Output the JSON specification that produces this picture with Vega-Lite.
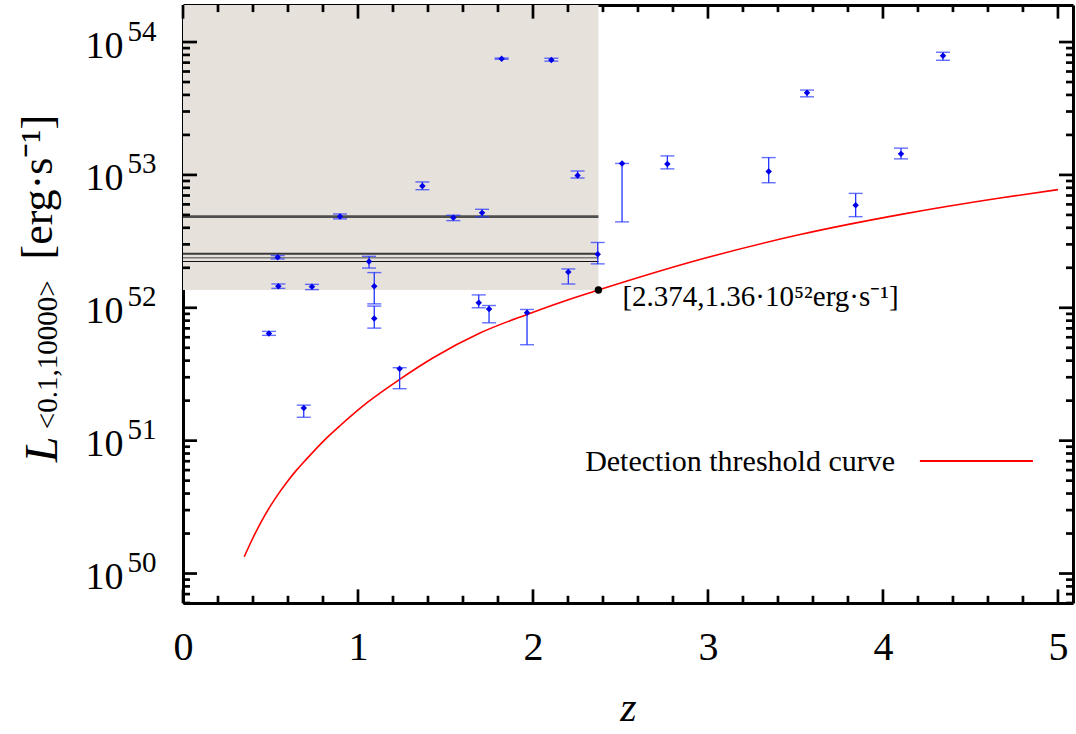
{
  "$schema": "https://vega.github.io/schema/vega-lite/v6.json",
  "width": 890,
  "height": 598,
  "autosize": {"type": "none"},
  "padding": {"left": 183, "top": 5, "right": 3, "bottom": 131},
  "background": "white",
  "config": {
    "view": {"stroke": null},
    "axis": {"grid": false, "zindex": 1, "labelOverlap": false, "labelBound": false, "labelFlush": false, "domainColor": "black", "domainWidth": 3, "labelColor": "black", "labelFont": "Liberation Serif", "title": null},
    "font": "Liberation Serif"
  },
  "datasets": {
    "points": [
      {"z": 0.491, "L": 6.41e51, "lo": 6.2e51, "hi": 6.64e51},
      {"z": 0.541, "L": 2.40e52, "lo": 2.33e52, "hi": 2.47e52},
      {"z": 0.545, "L": 1.45e52, "lo": 1.40e52, "hi": 1.51e52},
      {"z": 0.690, "L": 1.76e51, "lo": 1.50e51, "hi": 1.85e51},
      {"z": 0.737, "L": 1.44e52, "lo": 1.37e52, "hi": 1.50e52},
      {"z": 0.897, "L": 4.87e52, "lo": 4.67e52, "hi": 5.08e52},
      {"z": 1.063, "L": 2.23e52, "lo": 1.99e52, "hi": 2.44e52},
      {"z": 1.093, "L": 1.45e52, "lo": 1.07e52, "hi": 1.84e52},
      {"z": 1.093, "L": 8.3e51, "lo": 7.03e51, "hi": 1.03e52},
      {"z": 1.238, "L": 3.48e51, "lo": 2.46e51, "hi": 3.54e51},
      {"z": 1.368, "L": 8.26e52, "lo": 7.74e52, "hi": 8.85e52},
      {"z": 1.545, "L": 4.77e52, "lo": 4.53e52, "hi": 4.97e52},
      {"z": 1.690, "L": 1.09e52, "lo": 1.00e52, "hi": 1.25e52},
      {"z": 1.709, "L": 5.18e52, "lo": 4.83e52, "hi": 5.51e52},
      {"z": 1.749, "L": 9.8e51, "lo": 7.71e51, "hi": 1.04e52},
      {"z": 1.821, "L": 7.5e53, "lo": 7.42e53, "hi": 7.58e53},
      {"z": 1.966, "L": 9.17e51, "lo": 5.27e51, "hi": 9.71e51},
      {"z": 2.105, "L": 7.33e53, "lo": 7.18e53, "hi": 7.55e53},
      {"z": 2.202, "L": 1.86e52, "lo": 1.51e52, "hi": 1.96e52},
      {"z": 2.255, "L": 9.9e52, "lo": 9.48e52, "hi": 1.07e53},
      {"z": 2.370, "L": 2.53e52, "lo": 2.14e52, "hi": 3.10e52},
      {"z": 2.509, "L": 1.22e53, "lo": 4.43e52, "hi": 1.22e53},
      {"z": 2.768, "L": 1.21e53, "lo": 1.11e53, "hi": 1.39e53},
      {"z": 3.347, "L": 1.06e53, "lo": 8.73e52, "hi": 1.35e53},
      {"z": 3.566, "L": 4.15e53, "lo": 3.87e53, "hi": 4.35e53},
      {"z": 3.844, "L": 5.9e52, "lo": 4.85e52, "hi": 7.26e52},
      {"z": 4.103, "L": 1.44e53, "lo": 1.32e53, "hi": 1.59e53},
      {"z": 4.343, "L": 7.9e53, "lo": 7.29e53, "hi": 8.38e53}
    ],
    "curve": [
      {"z": 0.350, "L": 1.337e50},
      {"z": 0.400, "L": 1.858e50},
      {"z": 0.450, "L": 2.495e50},
      {"z": 0.500, "L": 3.228e50},
      {"z": 0.550, "L": 4.064e50},
      {"z": 0.600, "L": 5.000e50},
      {"z": 0.650, "L": 6.026e50},
      {"z": 0.707, "L": 7.295e50},
      {"z": 0.800, "L": 9.84e50},
      {"z": 0.897, "L": 1.294e51},
      {"z": 1.050, "L": 1.923e51},
      {"z": 1.238, "L": 2.891e51},
      {"z": 1.430, "L": 4.207e51},
      {"z": 1.697, "L": 6.457e51},
      {"z": 1.966, "L": 8.913e51},
      {"z": 2.173, "L": 1.117e52},
      {"z": 2.374, "L": 1.36e52},
      {"z": 2.954, "L": 2.307e52},
      {"z": 3.526, "L": 3.556e52},
      {"z": 4.097, "L": 5.023e52},
      {"z": 4.669, "L": 6.699e52},
      {"z": 5.000, "L": 7.745e52}
    ],
    "hlines": [
      {"series": "a", "L": 4.85e52, "z0": 0, "z1": 2.374},
      {"series": "b", "L": 2.55e52, "z0": 0, "z1": 2.374},
      {"series": "c", "L": 2.38e52, "z0": 0, "z1": 2.374},
      {"series": "d", "L": 2.23e52, "z0": 0, "z1": 2.374}
    ],
    "region": [
      {"z0": 0, "z1": 2.374, "L0": 1.36e52, "L1": 1.9e54}
    ],
    "limit": [
      {"z": 2.374, "L": 1.36e52, "label": "[2.374,1.36·10⁵²erg·s⁻¹]"}
    ],
    "xticks": [
      {"z": 0, "kind": "major"}, {"z": 0.2, "kind": "minor"}, {"z": 0.4, "kind": "minor"}, {"z": 0.6, "kind": "minor"}, {"z": 0.8, "kind": "minor"},
      {"z": 1, "kind": "major"}, {"z": 1.2, "kind": "minor"}, {"z": 1.4, "kind": "minor"}, {"z": 1.6, "kind": "minor"}, {"z": 1.8, "kind": "minor"},
      {"z": 2, "kind": "major"}, {"z": 2.2, "kind": "minor"}, {"z": 2.4, "kind": "minor"}, {"z": 2.6, "kind": "minor"}, {"z": 2.8, "kind": "minor"},
      {"z": 3, "kind": "major"}, {"z": 3.2, "kind": "minor"}, {"z": 3.4, "kind": "minor"}, {"z": 3.6, "kind": "minor"}, {"z": 3.8, "kind": "minor"},
      {"z": 4, "kind": "major"}, {"z": 4.2, "kind": "minor"}, {"z": 4.4, "kind": "minor"}, {"z": 4.6, "kind": "minor"}, {"z": 4.8, "kind": "minor"},
      {"z": 5, "kind": "major"}
    ],
    "yticks": [
      {"L": 6e49, "kind": "minor"}, {"L": 7e49, "kind": "minor"}, {"L": 8e49, "kind": "minor"}, {"L": 9e49, "kind": "minor"},
      {"L": 1e50, "kind": "major"}, {"L": 2e50, "kind": "minor"}, {"L": 3e50, "kind": "minor"}, {"L": 4e50, "kind": "minor"}, {"L": 5e50, "kind": "minor"}, {"L": 6e50, "kind": "minor"}, {"L": 7e50, "kind": "minor"}, {"L": 8e50, "kind": "minor"}, {"L": 9e50, "kind": "minor"},
      {"L": 1e51, "kind": "major"}, {"L": 2e51, "kind": "minor"}, {"L": 3e51, "kind": "minor"}, {"L": 4e51, "kind": "minor"}, {"L": 5e51, "kind": "minor"}, {"L": 6e51, "kind": "minor"}, {"L": 7e51, "kind": "minor"}, {"L": 8e51, "kind": "minor"}, {"L": 9e51, "kind": "minor"},
      {"L": 1e52, "kind": "major"}, {"L": 2e52, "kind": "minor"}, {"L": 3e52, "kind": "minor"}, {"L": 4e52, "kind": "minor"}, {"L": 5e52, "kind": "minor"}, {"L": 6e52, "kind": "minor"}, {"L": 7e52, "kind": "minor"}, {"L": 8e52, "kind": "minor"}, {"L": 9e52, "kind": "minor"},
      {"L": 1e53, "kind": "major"}, {"L": 2e53, "kind": "minor"}, {"L": 3e53, "kind": "minor"}, {"L": 4e53, "kind": "minor"}, {"L": 5e53, "kind": "minor"}, {"L": 6e53, "kind": "minor"}, {"L": 7e53, "kind": "minor"}, {"L": 8e53, "kind": "minor"}, {"L": 9e53, "kind": "minor"},
      {"L": 1e54, "kind": "major"}
    ]
  },
  "layer": [
    {
      "data": {"name": "region"},
      "mark": {"type": "rect", "color": "#e7e1dc"},
      "encoding": {
        "x": {
          "field": "z0", "type": "quantitative",
          "scale": {"domain": [0, 5.086], "nice": false, "zero": false},
          "axis": {
            "orient": "bottom",
            "values": [0, 1, 2, 3, 4, 5],
            "ticks": false,
            "labelExpr": "format(datum.value, 'd')",
            "labelFontSize": 40,
            "labelPadding": 24,
            "title": "z", "titleFont": "Liberation Serif", "titleFontStyle": "italic", "titleFontWeight": "normal",
            "titleFontSize": 42, "titleColor": "black", "titlePadding": 20
          }
        },
        "x2": {"field": "z1"},
        "y": {
          "field": "L0", "type": "quantitative",
          "scale": {"type": "log", "domain": [6e49, 1.9e54], "nice": false},
          "axis": {
            "orient": "left",
            "values": [1e50, 1e51, 1e52, 1e53, 1e54],
            "ticks": false,
            "labelExpr": "'10'",
            "labelFontSize": 38,
            "labelAlign": "right",
            "labelPadding": 60,
            "labelOffset": 4
          }
        },
        "y2": {"field": "L1"}
      }
    },
    {
      "data": {"name": "hlines"},
      "mark": {"type": "rule"},
      "encoding": {
        "x": {"field": "z0", "type": "quantitative", "axis": null},
        "x2": {"field": "z1"},
        "y": {"field": "L", "type": "quantitative", "axis": null},
        "color": {"field": "series", "type": "nominal", "legend": null,
          "scale": {"domain": ["a", "b", "c", "d"], "range": ["#4f4f4f", "#3a3a3a", "#7a7a7a", "#111111"]}},
        "strokeWidth": {"field": "series", "type": "nominal", "legend": null,
          "scale": {"domain": ["a", "b", "c", "d"], "range": [2.6, 1.2, 2.2, 1.2]}}
      }
    },
    {
      "data": {"name": "curve"},
      "mark": {"type": "line", "color": "#ff0000", "strokeWidth": 1.6, "interpolate": "monotone"},
      "encoding": {
        "x": {"field": "z", "type": "quantitative", "axis": null},
        "y": {"field": "L", "type": "quantitative", "axis": null}
      }
    },
    {
      "data": {"name": "points"},
      "mark": {"type": "rule", "color": "#2233ff", "strokeWidth": 1.3},
      "encoding": {
        "x": {"field": "z", "type": "quantitative", "axis": null},
        "y": {"field": "lo", "type": "quantitative", "axis": null},
        "y2": {"field": "hi"}
      }
    },
    {
      "data": {"name": "points"},
      "mark": {"type": "tick", "orient": "horizontal", "color": "#2233ff", "size": 14, "thickness": 1.4},
      "encoding": {
        "x": {"field": "z", "type": "quantitative", "axis": null},
        "y": {"field": "lo", "type": "quantitative", "axis": null}
      }
    },
    {
      "data": {"name": "points"},
      "mark": {"type": "tick", "orient": "horizontal", "color": "#2233ff", "size": 14, "thickness": 1.4},
      "encoding": {
        "x": {"field": "z", "type": "quantitative",
          "axis": {"orient": "top", "ticks": false, "labels": false, "domain": true, "values": [0]}
        },
        "y": {"field": "hi", "type": "quantitative",
          "axis": {"orient": "right", "ticks": false, "labels": false, "domain": true, "values": [1e50]}
        }
      }
    },
    {
      "data": {"name": "points"},
      "mark": {"type": "point", "shape": "diamond", "filled": true, "color": "#0000e8", "size": 42, "opacity": 1},
      "encoding": {
        "x": {"field": "z", "type": "quantitative", "axis": null},
        "y": {"field": "L", "type": "quantitative",
          "axis": {
            "orient": "left",
            "values": [1e50, 1e51, 1e52, 1e53, 1e54],
            "ticks": false, "domain": false,
            "labelExpr": "['50','51','52','53','54'][round(log(datum.value)/LN10) - 50]",
            "labelFontSize": 29,
            "labelAlign": "right",
            "labelPadding": 27,
            "labelOffset": -11
          }
        }
      }
    },
    {
      "data": {"name": "limit"},
      "mark": {"type": "point", "shape": "circle", "filled": true, "color": "black", "size": 55, "opacity": 1},
      "encoding": {
        "x": {"field": "z", "type": "quantitative", "axis": null},
        "y": {"field": "L", "type": "quantitative", "axis": null}
      }
    },
    {
      "data": {"name": "limit"},
      "mark": {"type": "text", "align": "left", "baseline": "alphabetic", "dx": 24, "dy": 16, "font": "Liberation Serif", "fontSize": 29, "color": "black"},
      "encoding": {
        "x": {"field": "z", "type": "quantitative", "axis": null},
        "y": {"field": "L", "type": "quantitative", "axis": null},
        "text": {"field": "label"}
      }
    },
    {
      "data": {"values": [{}]},
      "mark": {"type": "rule", "color": "#ff0000", "strokeWidth": 2},
      "encoding": {
        "x": {"datum": 4.211, "type": "quantitative", "axis": null},
        "x2": {"datum": 4.857},
        "y": {"datum": 7.03e50, "type": "quantitative", "axis": null}
      }
    },
    {
      "data": {"values": [{}]},
      "mark": {"type": "text", "align": "right", "baseline": "alphabetic", "font": "Liberation Serif", "fontSize": 30, "color": "black"},
      "encoding": {
        "x": {"datum": 4.069, "type": "quantitative", "axis": null},
        "y": {"datum": 5.89e50, "type": "quantitative", "axis": null},
        "text": {"value": "Detection threshold curve"}
      }
    },
    {
      "data": {"values": [{}]},
      "mark": {"type": "text", "align": "left", "baseline": "alphabetic", "angle": 270, "font": "Liberation Serif", "fontStyle": "italic", "fontSize": 46, "color": "black"},
      "encoding": {
        "x": {"datum": -0.72, "type": "quantitative", "axis": null},
        "y": {"datum": 6.89e50, "type": "quantitative", "axis": null},
        "text": {"value": "L"}
      }
    },
    {
      "data": {"values": [{}]},
      "mark": {"type": "text", "align": "left", "baseline": "alphabetic", "angle": 270, "font": "Liberation Serif", "fontSize": 29, "color": "black"},
      "encoding": {
        "x": {"datum": -0.72, "type": "quantitative", "axis": null},
        "y": {"datum": 1.22e51, "type": "quantitative", "axis": null},
        "text": {"value": "<0.1,10000>"}
      }
    },
    {
      "data": {"values": [{}]},
      "mark": {"type": "text", "align": "left", "baseline": "alphabetic", "angle": 270, "font": "Liberation Serif", "fontSize": 44, "color": "black"},
      "encoding": {
        "x": {"datum": -0.749, "type": "quantitative", "axis": null},
        "y": {"datum": 2.31e52, "type": "quantitative", "axis": null},
        "text": {"value": "[erg·s⁻¹]"}
      }
    },
    {
      "data": {"name": "xticks"},
      "transform": [{"filter": "datum.kind == 'major'"}],
      "mark": {"type": "rule", "color": "black", "strokeWidth": 2.7},
      "encoding": {
        "x": {"field": "z", "type": "quantitative", "axis": null},
        "y": {"datum": 6e49, "type": "quantitative", "axis": null},
        "y2": {"datum": 7.6e49}
      }
    },
    {
      "data": {"name": "xticks"},
      "transform": [{"filter": "datum.kind == 'minor'"}],
      "mark": {"type": "rule", "color": "black", "strokeWidth": 2.7},
      "encoding": {
        "x": {"field": "z", "type": "quantitative", "axis": null},
        "y": {"datum": 6e49, "type": "quantitative", "axis": null},
        "y2": {"datum": 6.8e49}
      }
    },
    {
      "data": {"name": "xticks"},
      "transform": [{"filter": "datum.kind == 'major'"}],
      "mark": {"type": "rule", "color": "black", "strokeWidth": 2.7},
      "encoding": {
        "x": {"field": "z", "type": "quantitative", "axis": null},
        "y": {"datum": 1.9e54, "type": "quantitative", "axis": null},
        "y2": {"datum": 1.5e54}
      }
    },
    {
      "data": {"name": "xticks"},
      "transform": [{"filter": "datum.kind == 'minor'"}],
      "mark": {"type": "rule", "color": "black", "strokeWidth": 2.7},
      "encoding": {
        "x": {"field": "z", "type": "quantitative", "axis": null},
        "y": {"datum": 1.9e54, "type": "quantitative", "axis": null},
        "y2": {"datum": 1.68e54}
      }
    },
    {
      "data": {"name": "yticks"},
      "transform": [{"filter": "datum.kind == 'major'"}],
      "mark": {"type": "rule", "color": "black", "strokeWidth": 2.7},
      "encoding": {
        "y": {"field": "L", "type": "quantitative", "axis": null},
        "x": {"datum": 0, "type": "quantitative", "axis": null},
        "x2": {"datum": 0.08}
      }
    },
    {
      "data": {"name": "yticks"},
      "transform": [{"filter": "datum.kind == 'minor'"}],
      "mark": {"type": "rule", "color": "black", "strokeWidth": 2.7},
      "encoding": {
        "y": {"field": "L", "type": "quantitative", "axis": null},
        "x": {"datum": 0, "type": "quantitative", "axis": null},
        "x2": {"datum": 0.04}
      }
    },
    {
      "data": {"name": "yticks"},
      "transform": [{"filter": "datum.kind == 'major'"}],
      "mark": {"type": "rule", "color": "black", "strokeWidth": 2.7},
      "encoding": {
        "y": {"field": "L", "type": "quantitative", "axis": null},
        "x": {"datum": 5.086, "type": "quantitative", "axis": null},
        "x2": {"datum": 5.006}
      }
    },
    {
      "data": {"name": "yticks"},
      "transform": [{"filter": "datum.kind == 'minor'"}],
      "mark": {"type": "rule", "color": "black", "strokeWidth": 2.7},
      "encoding": {
        "y": {"field": "L", "type": "quantitative", "axis": null},
        "x": {"datum": 5.086, "type": "quantitative", "axis": null},
        "x2": {"datum": 5.046}
      }
    }
  ],
  "resolve": {"axis": {"x": "independent", "y": "independent"}}
}
